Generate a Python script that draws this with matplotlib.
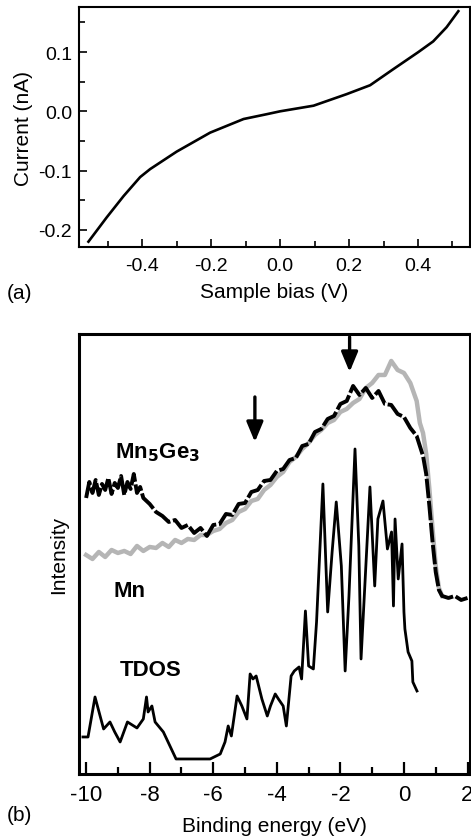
import matplotlib.pyplot as plt
from matplotlib.ticker import MultipleLocator

plt.rcParams['font.family'] = ['Liberation Sans', 'DejaVu Sans']

# (a) I-V curve
bias = [-0.556, -0.503, -0.454, -0.406, -0.377, -0.300, -0.203, -0.106, -0.04, 0.0,
        0.097, 0.193, 0.261, 0.328, 0.401, 0.444, 0.483, 0.517]
current = [-0.220, -0.179, -0.143, -0.111, -0.0975, -0.068, -0.036, -0.013, -0.005, 0.0,
           0.0095, 0.029, 0.044, 0.071, 0.100, 0.118, 0.142, 0.169]

# (b) spectra, arbitrary intensity units
e_mn5ge3 = [-10.0, -9.9, -9.8, -9.7, -9.6, -9.5, -9.4, -9.3, -9.2, -9.1, -9.0, -8.9, -8.8, -8.7,
            -8.6, -8.5, -8.4, -8.3, -8.2, -8.0, -7.8, -7.6, -7.4,
            -7.2, -7.0, -6.8, -6.6, -6.4, -6.2, -6.0, -5.8, -5.6, -5.4, -5.2, -5.0, -4.8, -4.6,
            -4.4, -4.2, -4.0, -3.8, -3.6, -3.4, -3.2, -3.0, -2.8, -2.6, -2.4, -2.2, -2.0, -1.8,
            -1.6, -1.4, -1.2, -1.0, -0.8, -0.6, -0.4, -0.2, 0.0, 0.2, 0.4, 0.6, 0.7, 0.8, 0.9,
            1.0, 1.1, 1.2, 1.4, 1.6, 1.8, 2.0]
i_mn5ge3 = [276, 292, 281, 294, 279, 290, 284, 296, 280, 291, 286, 298, 279, 292,
            285, 300, 281, 287, 276, 270, 262, 258, 252,
            254, 246, 249, 241, 246, 238, 249, 250, 260, 259, 270, 271, 282, 284,
            293, 294, 303, 305, 314, 316, 328, 330, 342, 345, 355, 358, 370, 373,
            388, 379, 386, 376, 383, 370, 369, 360, 357, 346, 338, 318, 300, 268, 232,
            202, 184, 178, 176, 178, 174, 176]

e_mn = [-10.0, -9.8, -9.6, -9.4, -9.2, -9.0, -8.8, -8.6, -8.4, -8.2, -8.0, -7.8, -7.6, -7.4,
        -7.2, -7.0, -6.8, -6.6, -6.4, -6.2, -6.0, -5.8, -5.6, -5.4, -5.2, -5.0, -4.8, -4.6,
        -4.4, -4.2, -4.0, -3.8, -3.6, -3.4, -3.2, -3.0, -2.8, -2.6, -2.4, -2.2, -2.0, -1.8,
        -1.6, -1.4, -1.2, -1.0, -0.8, -0.6, -0.4, -0.2, 0.0, 0.2, 0.4, 0.5, 0.6, 0.7, 0.8,
        0.9, 1.0, 1.1, 1.2]
i_mn = [219, 215, 222, 217, 224, 221, 223, 220, 228, 223, 227, 226, 231, 227,
        234, 231, 235, 234, 239, 239, 243, 245, 251, 254, 262, 265, 273, 275,
        284, 289, 297, 302, 312, 317, 325, 331, 339, 344, 351, 354, 362, 365,
        371, 375, 386, 391, 399, 399, 413, 404, 401, 391, 373, 351, 341, 320, 285,
        245, 208, 186, 178]

e_tdos = [-10.1, -9.94, -9.72, -9.56, -9.45, -9.25, -9.1, -8.93, -8.7, -8.4, -8.2, -8.1, -8.05,
          -7.93, -7.83, -7.57, -7.17, -6.1, -5.78, -5.63, -5.53, -5.43, -5.25, -5.1, -4.94,
          -4.84, -4.75, -4.65, -4.47, -4.3, -4.2, -4.05, -3.95, -3.8, -3.7, -3.55, -3.45,
          -3.3, -3.22, -3.1, -3.0, -2.85, -2.75, -2.55, -2.4, -2.26, -2.13, -1.97, -1.85,
          -1.73, -1.54, -1.42, -1.35, -1.07, -0.92, -0.82, -0.66, -0.52, -0.39, -0.33,
          -0.28, -0.18, -0.06, 0.0, 0.03, 0.13, 0.25, 0.28, 0.41]
i_tdos = [37, 37, 77, 58, 45, 52, 42, 32, 52, 46, 55, 77, 62,
          68, 52, 42, 15, 15, 20, 32, 48, 38, 78, 68, 55,
          100, 95, 98, 75, 58, 68, 80, 75, 68, 48, 98, 103,
          107, 95, 163, 108, 105, 152, 290, 162, 222, 272, 208, 103,
          178, 325, 228, 115, 287, 188, 255, 273, 225, 242, 168,
          255, 195, 230, 162, 145, 122, 113, 92, 83]

arrow_e = [-4.69, -1.71]
arrow_top = [377, 437]
arrow_bottom = [332, 402]

fig = plt.figure(figsize=(4.71, 8.37), dpi=100)

# --- panel (a)
ax1 = fig.add_axes([0.168, 0.7037, 0.830, 0.2867])
ax1.plot(bias, current, color='black', lw=1.9)
ax1.set_xlim(-0.583, 0.551)
ax1.set_ylim(-0.229, 0.176)
ax1.xaxis.set_minor_locator(MultipleLocator(0.1))
ax1.yaxis.set_minor_locator(MultipleLocator(0.05))
ax1.set_xticks([-0.4, -0.2, 0.0, 0.2, 0.4])
ax1.set_xticklabels(['-0.4', '-0.2', '0.0', '0.2', '0.4'])
ax1.set_yticks([-0.2, -0.1, 0.0, 0.1])
ax1.set_yticklabels(['-0.2', '-0.1', '0.0', '0.1'])
ax1.tick_params(which='both', direction='in', labelsize=14, width=1.2)
ax1.tick_params(axis='x', which='both', pad=7)
ax1.tick_params(axis='y', which='both', pad=5)
ax1.tick_params(which='major', length=6)
ax1.tick_params(which='minor', length=4)
for s in ax1.spines.values():
    s.set_linewidth(1.5)
ax1.set_xlabel('Sample bias (V)', fontsize=15, labelpad=6)
ax1.set_ylabel('Current (nA)', fontsize=15, labelpad=4)
fig.text(0.015, 0.649, '(a)', fontsize=15, va='center')

# --- panel (b)
ax2 = fig.add_axes([0.168, 0.0741, 0.830, 0.5257])
ax2.plot(e_mn, i_mn, color='#b5b5b5', lw=3.2)
ax2.plot(e_mn5ge3, i_mn5ge3, color='black', lw=2.8, ls=(0, (5, 0.7)))
ax2.plot(e_tdos, i_tdos, color='black', lw=2.0)
for e, y0, y1 in zip(arrow_e, arrow_top, arrow_bottom):
    ax2.annotate('', xy=(e, y1), xytext=(e, y0),
                 arrowprops=dict(arrowstyle='-|>,head_width=0.5,head_length=1.2',
                                 color='black', lw=2.4, shrinkA=0, shrinkB=0))
ax2.text(-9.1, 322, r'Mn$_{\mathbf{5}}$Ge$_{\mathbf{3}}$', fontsize=16,
         fontweight='bold', va='center')
ax2.text(-9.15, 183, 'Mn', fontsize=16, fontweight='bold', va='center')
ax2.text(-8.93, 104, 'TDOS', fontsize=16, fontweight='bold', va='center')
ax2.set_xlim(-10.22, 2.08)
ax2.set_ylim(0, 440)
ax2.xaxis.set_minor_locator(MultipleLocator(1))
ax2.set_yticks([])
ax2.set_xticks([-10, -8, -6, -4, -2, 0, 2])
ax2.set_xticklabels(['-10', '-8', '-6', '-4', '-2', '0', '2'])
ax2.tick_params(which='both', direction='in', labelsize=16, width=1.6, pad=7)
ax2.tick_params(which='major', length=9)
ax2.tick_params(which='minor', length=5)
for s in ax2.spines.values():
    s.set_linewidth(2.2)
ax2.set_xlabel('Binding energy (eV)', fontsize=15, labelpad=8)
ax2.set_ylabel('Intensity', fontsize=15, labelpad=8)
fig.text(0.015, 0.014, '(b)', fontsize=15, va='bottom')

fig.savefig('out.png', dpi=100)
